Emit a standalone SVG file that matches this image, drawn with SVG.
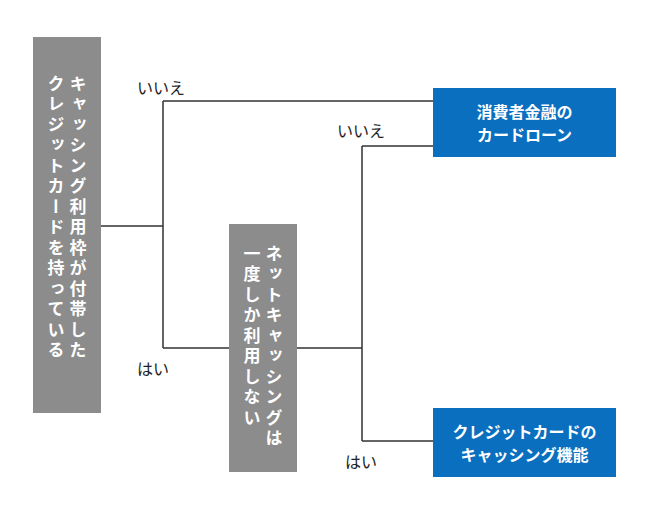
<svg xmlns="http://www.w3.org/2000/svg" width="650" height="515" viewBox="0 0 650 515">
<style>
.g{fill:#8c8c8c}
.b{fill:#0b6fbf}
.vt{font-family:"Noto Sans CJK JP",sans-serif;font-size:17px;font-weight:bold;fill:#fff;writing-mode:vertical-rl;letter-spacing:3.5px}
.bt{font-family:"Noto Sans CJK JP",sans-serif;font-size:16px;font-weight:bold;fill:#fff;text-anchor:middle}
.lb{font-family:"Noto Sans CJK JP",sans-serif;font-size:16px;fill:#222}
.ln{fill:none;stroke:#333;stroke-width:1.5}
</style>
<rect width="650" height="515" fill="#fff"/>
<g id="connectors">
<path class="ln" d="M101 226H163M163 101V348M163 101H433M163 348H229M297 348H362M362 146V441M362 146H433M362 441H433"/>
<text class="lb" x="137" y="94">いいえ</text>
<text class="lb" x="137" y="375">はい</text>
<text class="lb" x="337" y="137">いいえ</text>
<text class="lb" x="345" y="468">はい</text>
</g>
<g id="q1"><rect class="g" x="33" y="37" width="68" height="376"/>
<text class="vt" x="78" y="75">キャッシング利用枠が付帯した</text>
<text class="vt" x="56" y="75">クレジットカードを持っている</text></g>
<g id="q2"><rect class="g" x="229" y="224" width="68" height="248"/>
<text class="vt" x="274" y="245">ネットキャッシングは</text>
<text class="vt" x="252" y="245">一度しか利用しない</text></g>
<g id="a1"><rect class="b" x="433" y="88" width="183" height="69"/>
<text class="bt" x="524.5" y="118">消費者金融の</text>
<text class="bt" x="524.5" y="141">カードローン</text></g>
<g id="a2"><rect class="b" x="433" y="408" width="183" height="69"/>
<text class="bt" x="524.5" y="438">クレジットカードの</text>
<text class="bt" x="524.5" y="461">キャッシング機能</text></g>
</svg>
